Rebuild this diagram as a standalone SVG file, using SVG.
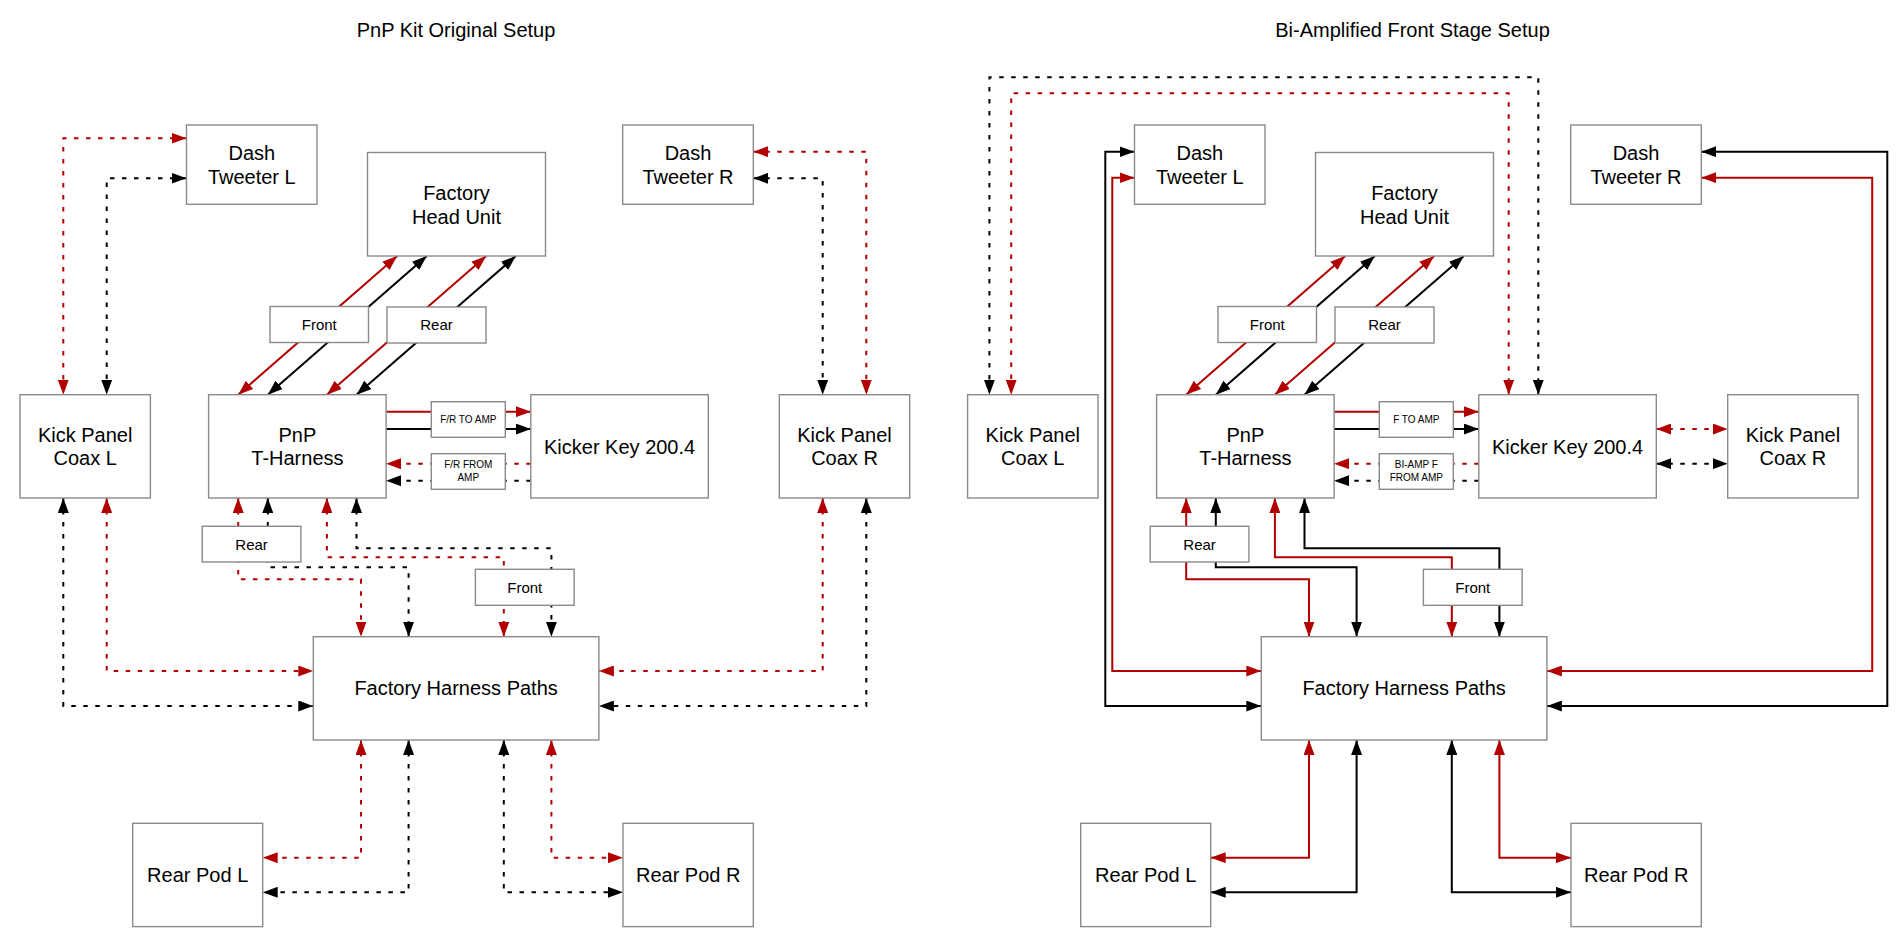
<svg xmlns="http://www.w3.org/2000/svg" width="1900" height="944" viewBox="0 0 1900 944">
<style>
.bx{fill:#fff;stroke:#8a8a8a;stroke-width:1.4}
.t{font-family:"Liberation Sans",Arial,Helvetica,sans-serif;fill:#000;text-anchor:middle}
.big{font-size:20px}
.mid{font-size:15px}
.sm{font-size:10px}
.ttl{font-size:20px}
.c{fill:none;stroke-width:2}
.r{stroke:#B20000}
.k{stroke:#000}
.d{stroke-dasharray:4.5 7.5}
.r.b{marker-start:url(#mr);marker-end:url(#mr)}
.k.b{marker-start:url(#mk);marker-end:url(#mk)}
.r.e{marker-end:url(#mr)}
.k.e{marker-end:url(#mk)}
</style>
<defs>
<marker id="mr" viewBox="0 0 15 11" refX="15" refY="5.5" markerWidth="15" markerHeight="11" markerUnits="userSpaceOnUse" orient="auto-start-reverse"><path d="M0,0 L15,5.5 L0,11 z" fill="#B20000"/></marker>
<marker id="mk" viewBox="0 0 15 11" refX="15" refY="5.5" markerWidth="15" markerHeight="11" markerUnits="userSpaceOnUse" orient="auto-start-reverse"><path d="M0,0 L15,5.5 L0,11 z" fill="#000"/></marker>
</defs>
<rect width="1900" height="944" fill="#fff"/>

<g id="titles">
<text class="t ttl" x="456" y="37">PnP Kit Original Setup</text>
<text class="t ttl" x="1412.5" y="37">Bi-Amplified Front Stage Setup</text>
</g>

<g id="connectors">
<!-- left diagram -->
<path class="c r d b" d="M186.5,138.3 H63.3 V394.7"/>
<path class="c k d b" d="M186.5,178.3 H106.7 V394.7"/>
<path class="c r d b" d="M753.3,151.7 H866.3 V394.7"/>
<path class="c k d b" d="M753.3,178.3 H822.7 V394.7"/>
<path class="c r b" d="M238.2,394.7 L397.2,256"/>
<path class="c k b" d="M267.8,394.7 L426.8,256"/>
<path class="c r b" d="M326.9,394.7 L486.2,256"/>
<path class="c k b" d="M356.5,394.7 L515.8,256"/>
<path class="c r e" d="M386.1,411.7 H530.8"/>
<path class="c k e" d="M386.1,429 H530.8"/>
<path class="c r d e" d="M530.8,463.7 H386.1"/>
<path class="c k d e" d="M530.8,480.7 H386.1"/>
<path class="c r d b" d="M238.2,498 V579.3 H361 V636.7"/>
<path class="c k d b" d="M267.8,498 V567.3 H408.6 V636.7"/>
<path class="c r d b" d="M326.9,498 V557.3 H503.8 V636.7"/>
<path class="c k d b" d="M356.5,498 V548.3 H551.4 V636.7"/>
<path class="c k d b" d="M63.3,498 V706 H313.3"/>
<path class="c r d b" d="M106.7,498 V671 H313.3"/>
<path class="c r d b" d="M822.7,498 V671 H598.9"/>
<path class="c k d b" d="M866.3,498 V706 H598.9"/>
<path class="c r d b" d="M361,740 V857.7 H262.7"/>
<path class="c k d b" d="M408.6,740 V892.3 H262.7"/>
<path class="c k d b" d="M503.8,740 V892.3 H623"/>
<path class="c r d b" d="M551.4,740 V857.7 H623"/>
<!-- right diagram -->
<path class="c k d b" d="M1538.3,394.7 V77.3 H989.4 V394.7"/>
<path class="c r d b" d="M1508.7,394.7 V93.3 H1011.2 V394.7"/>
<path class="c k b" d="M1134.5,151.7 H1105.3 V706 H1261.3"/>
<path class="c r b" d="M1134.5,177.7 H1112.3 V671 H1261.3"/>
<path class="c k b" d="M1701.3,151.7 H1887.3 V706 H1546.9"/>
<path class="c r b" d="M1701.3,177.7 H1872.2 V671 H1546.9"/>
<path class="c r b" d="M1186.2,394.7 L1345.2,256"/>
<path class="c k b" d="M1215.8,394.7 L1374.8,256"/>
<path class="c r b" d="M1274.9,394.7 L1434.2,256"/>
<path class="c k b" d="M1304.5,394.7 L1463.8,256"/>
<path class="c r e" d="M1334.1,411.7 H1478.8"/>
<path class="c k e" d="M1334.1,429 H1478.8"/>
<path class="c r d e" d="M1478.8,463.7 H1334.1"/>
<path class="c k d e" d="M1478.8,480.7 H1334.1"/>
<path class="c r d b" d="M1656.3,429 H1727.7"/>
<path class="c k d b" d="M1656.3,463.7 H1727.7"/>
<path class="c r b" d="M1186.2,498 V579.3 H1309 V636.7"/>
<path class="c k b" d="M1215.8,498 V567.3 H1356.6 V636.7"/>
<path class="c r b" d="M1274.9,498 V557.3 H1451.8 V636.7"/>
<path class="c k b" d="M1304.5,498 V548.3 H1499.4 V636.7"/>
<path class="c r b" d="M1309,740 V857.7 H1210.7"/>
<path class="c k b" d="M1356.6,740 V892.3 H1210.7"/>
<path class="c k b" d="M1451.8,740 V892.3 H1571"/>
<path class="c r b" d="M1499.4,740 V857.7 H1571"/>
</g>

<!-- left diagram nodes -->
<g id="L-dash-tweeter-l"><rect class="bx" x="186.5" y="125" width="130.5" height="79.3"/><text class="t big" x="251.8" y="160.3">Dash</text><text class="t big" x="251.8" y="183.7">Tweeter L</text></g>
<g id="L-head-unit"><rect class="bx" x="367.5" y="152.5" width="178" height="103.5"/><text class="t big" x="456.5" y="200.3">Factory</text><text class="t big" x="456.5" y="223.7">Head Unit</text></g>
<g id="L-dash-tweeter-r"><rect class="bx" x="622.7" y="125" width="130.6" height="79.3"/><text class="t big" x="688" y="160.3">Dash</text><text class="t big" x="688" y="183.7">Tweeter R</text></g>
<g id="L-front-top"><rect class="bx" x="270" y="306.5" width="98.5" height="36"/><text class="t mid" x="319.3" y="329.8">Front</text></g>
<g id="L-rear-top"><rect class="bx" x="387" y="307" width="99" height="36"/><text class="t mid" x="436.5" y="330.4">Rear</text></g>
<g id="L-kick-panel-l"><rect class="bx" x="20" y="394.7" width="130.4" height="103.3"/><text class="t big" x="85.2" y="441.7">Kick Panel</text><text class="t big" x="85.2" y="465.1">Coax L</text></g>
<g id="L-pnp"><rect class="bx" x="208.6" y="394.7" width="177.5" height="103.3"/><text class="t big" x="297.4" y="441.7">PnP</text><text class="t big" x="297.4" y="465.1">T-Harness</text></g>
<g id="L-fr-to-amp"><rect class="bx" x="431.3" y="401.7" width="74" height="35.6"/><text class="t sm" x="468.3" y="423">F/R TO AMP</text></g>
<g id="L-fr-from-amp"><rect class="bx" x="431.3" y="453.7" width="74" height="35.6"/><text class="t sm" x="468.3" y="467.9">F/R FROM</text><text class="t sm" x="468.3" y="481.3">AMP</text></g>
<g id="L-kicker"><rect class="bx" x="530.8" y="394.7" width="177.5" height="103.3"/><text class="t big" x="619.6" y="453.5">Kicker Key 200.4</text></g>
<g id="L-kick-panel-r"><rect class="bx" x="779.3" y="394.7" width="130.4" height="103.3"/><text class="t big" x="844.5" y="441.7">Kick Panel</text><text class="t big" x="844.5" y="465.1">Coax R</text></g>
<g id="L-rear-bottom"><rect class="bx" x="202.2" y="526.3" width="98.7" height="35.7"/><text class="t mid" x="251.6" y="549.5">Rear</text></g>
<g id="L-front-bottom"><rect class="bx" x="475.4" y="569.3" width="98.7" height="36"/><text class="t mid" x="524.8" y="592.7">Front</text></g>
<g id="L-factory-harness"><rect class="bx" x="313.3" y="636.7" width="285.6" height="103.3"/><text class="t big" x="456.1" y="695.4">Factory Harness Paths</text></g>
<g id="L-rear-pod-l"><rect class="bx" x="132.7" y="823.3" width="130" height="103.3"/><text class="t big" x="197.7" y="882">Rear Pod L</text></g>
<g id="L-rear-pod-r"><rect class="bx" x="623" y="823.3" width="130.3" height="103.3"/><text class="t big" x="688.2" y="882">Rear Pod R</text></g>

<!-- right diagram nodes -->
<g id="R-dash-tweeter-l"><rect class="bx" x="1134.5" y="125" width="130.5" height="79.3"/><text class="t big" x="1199.8" y="160.3">Dash</text><text class="t big" x="1199.8" y="183.7">Tweeter L</text></g>
<g id="R-head-unit"><rect class="bx" x="1315.5" y="152.5" width="178" height="103.5"/><text class="t big" x="1404.5" y="200.3">Factory</text><text class="t big" x="1404.5" y="223.7">Head Unit</text></g>
<g id="R-dash-tweeter-r"><rect class="bx" x="1570.7" y="125" width="130.6" height="79.3"/><text class="t big" x="1636" y="160.3">Dash</text><text class="t big" x="1636" y="183.7">Tweeter R</text></g>
<g id="R-front-top"><rect class="bx" x="1218" y="306.5" width="98.5" height="36"/><text class="t mid" x="1267.3" y="329.8">Front</text></g>
<g id="R-rear-top"><rect class="bx" x="1335" y="307" width="99" height="36"/><text class="t mid" x="1384.5" y="330.4">Rear</text></g>
<g id="R-kick-panel-l"><rect class="bx" x="967.6" y="394.7" width="130.4" height="103.3"/><text class="t big" x="1032.8" y="441.7">Kick Panel</text><text class="t big" x="1032.8" y="465.1">Coax L</text></g>
<g id="R-pnp"><rect class="bx" x="1156.6" y="394.7" width="177.5" height="103.3"/><text class="t big" x="1245.4" y="441.7">PnP</text><text class="t big" x="1245.4" y="465.1">T-Harness</text></g>
<g id="R-f-to-amp"><rect class="bx" x="1379.3" y="401.7" width="74" height="35.6"/><text class="t sm" x="1416.3" y="423">F TO AMP</text></g>
<g id="R-biamp-from-amp"><rect class="bx" x="1379.3" y="453.7" width="74" height="35.6"/><text class="t sm" x="1416.3" y="467.9">BI-AMP F</text><text class="t sm" x="1416.3" y="481.3">FROM AMP</text></g>
<g id="R-kicker"><rect class="bx" x="1478.8" y="394.7" width="177.5" height="103.3"/><text class="t big" x="1567.6" y="453.5">Kicker Key 200.4</text></g>
<g id="R-kick-panel-r"><rect class="bx" x="1727.7" y="394.7" width="130.4" height="103.3"/><text class="t big" x="1792.9" y="441.7">Kick Panel</text><text class="t big" x="1792.9" y="465.1">Coax R</text></g>
<g id="R-rear-bottom"><rect class="bx" x="1150.2" y="526.3" width="98.7" height="35.7"/><text class="t mid" x="1199.6" y="549.5">Rear</text></g>
<g id="R-front-bottom"><rect class="bx" x="1423.4" y="569.3" width="98.7" height="36"/><text class="t mid" x="1472.8" y="592.7">Front</text></g>
<g id="R-factory-harness"><rect class="bx" x="1261.3" y="636.7" width="285.6" height="103.3"/><text class="t big" x="1404.1" y="695.4">Factory Harness Paths</text></g>
<g id="R-rear-pod-l"><rect class="bx" x="1080.7" y="823.3" width="130" height="103.3"/><text class="t big" x="1145.7" y="882">Rear Pod L</text></g>
<g id="R-rear-pod-r"><rect class="bx" x="1571" y="823.3" width="130.3" height="103.3"/><text class="t big" x="1636.2" y="882">Rear Pod R</text></g>
</svg>
